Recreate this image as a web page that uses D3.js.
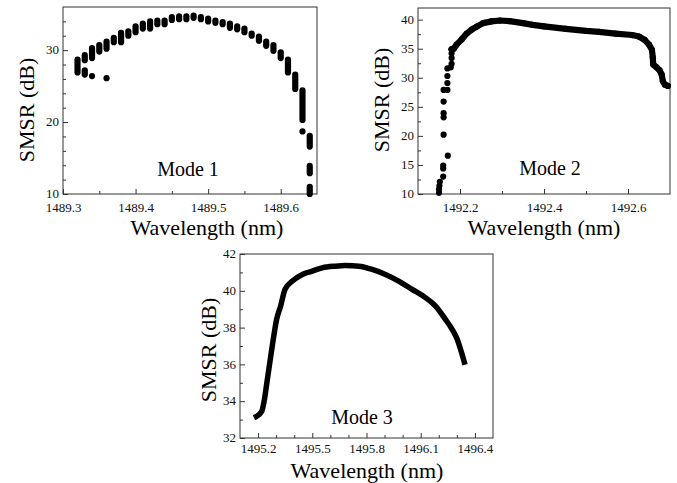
<!DOCTYPE html>
<html lang="en">
<head>
<meta charset="UTF-8">
<title>SMSR vs Wavelength, Modes 1-3</title>
<script src="https://d3js.org/d3.v7.min.js"></script>
<style>
    body { margin: 0; background: #fff; }
    svg { display: block; font-family: "Liberation Serif", "Times New Roman", serif; }
    .axis path { display: none; }
    .axis line { stroke: #333; }
    .axis text { font-size: 13px; fill: #111; font-family: "Liberation Serif", serif; }
</style>
</head>
<body>
<svg id="chart" width="677" height="483"></svg>
<script>
// Mode 1: stacked dot columns (wavelength, lowest dot, highest dot)
const wl1 = [1489.32, 1489.33, 1489.33, 1489.34, 1489.34, 1489.35, 1489.36, 1489.36, 1489.37, 1489.38,
    1489.39, 1489.40, 1489.41, 1489.42, 1489.43, 1489.44, 1489.45, 1489.46, 1489.47, 1489.48,
    1489.49, 1489.50, 1489.51, 1489.52, 1489.53, 1489.54, 1489.55, 1489.56, 1489.57, 1489.58,
    1489.59, 1489.60, 1489.61, 1489.62, 1489.63, 1489.63, 1489.64, 1489.64, 1489.64];
const lo1 = [26.9, 28.6, 26.6, 28.9, 26.4, 29.8, 30.2, 26.1, 31.1, 31.1,
    32.0, 32.5, 33.0, 33.0, 33.6, 33.6, 34.2, 34.3, 34.3, 34.5,
    34.3, 34.0, 33.8, 33.6, 33.1, 32.9, 32.5, 32.0, 31.3, 30.6,
    29.9, 28.9, 26.9, 24.6, 20.3, 18.7, 16.6, 12.9, 10.0];
const hi1 = [28.7, 29.3, 27.2, 30.3, 26.4, 30.7, 31.2, 26.1, 31.7, 32.4,
    32.6, 33.3, 33.7, 34.0, 34.1, 34.1, 34.6, 34.7, 34.7, 34.8,
    34.6, 34.4, 34.1, 33.9, 33.7, 33.3, 33.0, 32.3, 31.9, 31.2,
    30.7, 29.7, 28.7, 26.6, 24.4, 18.7, 18.1, 13.9, 11.0];

// Mode 2: scattered dots on the rising edge, dense dots elsewhere
const wl2 = [1492.150, 1492.150, 1492.151, 1492.152, 1492.160, 1492.160, 1492.160, 1492.171, 1492.161, 1492.161,
    1492.161, 1492.161, 1492.161, 1492.170, 1492.170, 1492.170, 1492.170, 1492.178, 1492.180, 1492.180,
    1492.180, 1492.180];
const smsr2 = [10.2, 10.8, 11.4, 12.1, 13.0, 14.4, 14.9, 16.6, 20.2, 23.2,
    23.9, 25.9, 27.9, 27.9, 29.1, 30.3, 31.6, 31.8, 32.4, 33.4,
    34.2, 34.9];
const wl2Dense = [1492.180, 1492.185, 1492.192, 1492.204, 1492.216, 1492.228, 1492.240, 1492.255, 1492.275, 1492.295,
    1492.318, 1492.350, 1492.373, 1492.400, 1492.452, 1492.500, 1492.531, 1492.570, 1492.610, 1492.626,
    1492.640, 1492.650, 1492.657, 1492.659, 1492.660, 1492.668, 1492.675, 1492.680, 1492.683, 1492.688, 1492.695];
const smsr2Dense = [34.9, 35.0, 35.7, 36.6, 37.6, 38.3, 38.8, 39.4, 39.7, 39.85,
    39.75, 39.4, 39.1, 38.85, 38.4, 38.05, 37.9, 37.6, 37.35, 37.1,
    36.5, 35.7, 34.8, 33.5, 32.3, 31.8, 31.3, 30.6, 29.4, 28.8, 28.6];

// Mode 3: continuous trace
const wl3 = [1495.191, 1495.220, 1495.233, 1495.252, 1495.279, 1495.303, 1495.325, 1495.349, 1495.390, 1495.445,
    1495.500, 1495.555, 1495.629, 1495.684, 1495.758, 1495.831, 1495.905, 1495.978, 1496.052, 1496.126,
    1496.181, 1496.236, 1496.273, 1496.301, 1496.325, 1496.341];
const smsr3 = [33.17, 33.44, 33.97, 35.23, 37.03, 38.46, 39.18, 40.08, 40.53, 40.89,
    41.07, 41.25, 41.34, 41.37, 41.34, 41.16, 40.89, 40.53, 40.08, 39.63,
    39.18, 38.46, 37.92, 37.39, 36.67, 36.13];

// ticks
const xMajor1 = [1489.3, 1489.4, 1489.5, 1489.6], xMinor1 = [1489.35, 1489.45, 1489.55];
const yMajor1 = [10, 20, 30], yMinor1 = [12, 14, 16, 18, 22, 24, 26, 28, 32, 34];
const xMajor2 = [1492.2, 1492.4, 1492.6], xMinor2 = [1492.3, 1492.5];
const yMajor2 = [10, 15, 20, 25, 30, 35, 40], yMinor2 = [12.5, 17.5, 22.5, 27.5, 32.5, 37.5];
const xMajor3 = [1495.2, 1495.5, 1495.8, 1496.1, 1496.4];
const xMinor3 = [1495.3, 1495.4, 1495.6, 1495.7, 1495.9, 1496.0, 1496.2, 1496.3];
const yMajor3 = [32, 34, 36, 38, 40, 42], yMinor3 = [33, 35, 37, 39, 41];

const svg = d3.select("#chart");
const R = 3.1;

function panel(p) {
    const x = d3.scaleLinear().domain(p.xDomain).range([p.left, p.right]);
    const y = d3.scaleLinear().domain(p.yDomain).range([p.bottom, p.top]);
    const g = svg.append("g");

    g.append("g").attr("class", "axis")
        .attr("transform", `translate(0,${p.bottom})`)
        .call(d3.axisBottom(x).tickValues(p.xMajor).tickSize(-5).tickPadding(p.pad).tickFormat(d3.format(".1f")));
    g.append("g").attr("class", "axis")
        .attr("transform", `translate(0,${p.bottom})`)
        .call(d3.axisBottom(x).tickValues(p.xMinor).tickSize(-3).tickFormat(""));
    g.append("g").attr("class", "axis")
        .attr("transform", `translate(${p.left},0)`)
        .call(d3.axisLeft(y).tickValues(p.yMajor).tickSize(-5).tickPadding(4).tickFormat(d3.format("d")))
        .selectAll("text").attr("dy", "0.28em");
    g.append("g").attr("class", "axis")
        .attr("transform", `translate(${p.left},0)`)
        .call(d3.axisLeft(y).tickValues(p.yMinor).tickSize(-3).tickFormat(""));

    g.append("rect")
        .attr("x", p.left).attr("y", p.top)
        .attr("width", p.right - p.left).attr("height", p.bottom - p.top)
        .attr("fill", "none").attr("stroke", "#333").attr("stroke-width", 1);

    g.append("text")
        .attr("transform", `translate(${p.yLabelX},${p.yLabelY}) rotate(-90)`)
        .attr("text-anchor", "middle")
        .attr("font-size", 22)
        .text("SMSR (dB)");
    g.append("text")
        .attr("x", p.xLabelX).attr("y", p.xLabelY)
        .attr("text-anchor", "middle")
        .attr("font-size", 22)
        .text("Wavelength (nm)");
    g.append("text")
        .attr("x", p.modeX).attr("y", p.modeY)
        .attr("text-anchor", "middle")
        .attr("font-size", 20)
        .text(p.mode);

    return { g, x, y };
}

// Mode 1
const p1 = panel({
    left: 63, right: 317, top: 7, bottom: 194, pad: 9,
    xDomain: [1489.3, 1489.65], yDomain: [10, 36],
    xMajor: xMajor1, xMinor: xMinor1, yMajor: yMajor1, yMinor: yMinor1,
    yLabelX: 34, yLabelY: 110, xLabelX: 207, xLabelY: 235,
    modeX: 188, modeY: 176, mode: "Mode 1"
});
p1.g.selectAll(".col")
    .data(wl1.map((w, i) => ({ w, lo: lo1[i], hi: hi1[i] })))
    .join("rect")
    .attr("x", d => p1.x(d.w) - R)
    .attr("y", d => p1.y(d.hi) - R)
    .attr("width", 2 * R)
    .attr("height", d => p1.y(d.lo) - p1.y(d.hi) + 2 * R)
    .attr("rx", R).attr("ry", R)
    .attr("fill", "#000");

// Mode 2
const p2 = panel({
    left: 418, right: 670, top: 8, bottom: 194, pad: 9,
    xDomain: [1492.1, 1492.7], yDomain: [10, 42],
    xMajor: xMajor2, xMinor: xMinor2, yMajor: yMajor2, yMinor: yMinor2,
    yLabelX: 389, yLabelY: 100, xLabelX: 544, xLabelY: 235,
    modeX: 550, modeY: 175, mode: "Mode 2"
});
p2.g.append("path")
    .datum(wl2Dense.map((w, i) => [w, smsr2Dense[i]]))
    .attr("fill", "none").attr("stroke", "#000")
    .attr("stroke-width", 2 * R).attr("stroke-linejoin", "round").attr("stroke-linecap", "round")
    .attr("d", d3.line().x(d => p2.x(d[0])).y(d => p2.y(d[1])));
p2.g.selectAll(".dot")
    .data(wl2.map((w, i) => [w, smsr2[i]]).concat(wl2Dense.map((w, i) => [w, smsr2Dense[i]])))
    .join("circle")
    .attr("cx", d => p2.x(d[0]))
    .attr("cy", d => p2.y(d[1]))
    .attr("r", R)
    .attr("fill", "#000");

// Mode 3
const p3 = panel({
    left: 240, right: 493, top: 254, bottom: 438, pad: 6,
    xDomain: [1495.1, 1496.5], yDomain: [32, 42],
    xMajor: xMajor3, xMinor: xMinor3, yMajor: yMajor3, yMinor: yMinor3,
    yLabelX: 216, yLabelY: 350, xLabelX: 367, xLabelY: 478,
    modeX: 362, modeY: 424, mode: "Mode 3"
});
p3.g.append("path")
    .datum(wl3.map((w, i) => [w, smsr3[i]]))
    .attr("fill", "none").attr("stroke", "#000")
    .attr("stroke-width", 5.5).attr("stroke-linejoin", "round").attr("stroke-linecap", "square")
    .attr("d", d3.line().curve(d3.curveMonotoneX).x(d => p3.x(d[0])).y(d => p3.y(d[1])));
</script>
</body>
</html>
